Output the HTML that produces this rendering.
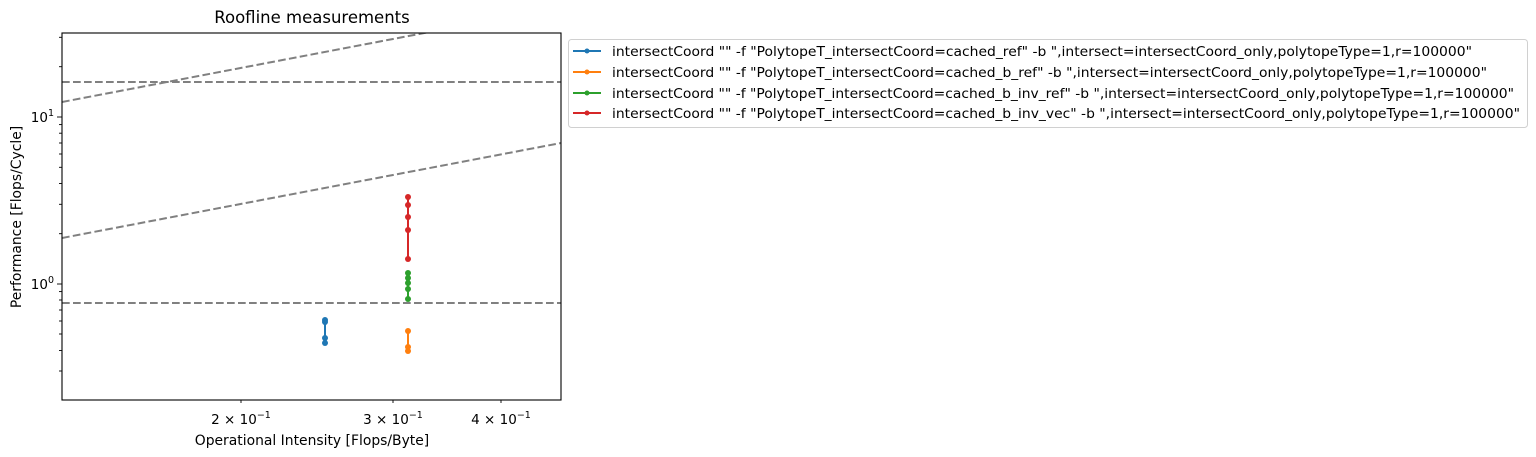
<!DOCTYPE html>
<html><head><meta charset="utf-8"><style>
html,body{margin:0;padding:0;background:#fff;}
svg{display:block;font-family:"DejaVu Sans","Liberation Sans",sans-serif;}
</style></head><body>
<svg width="1536" height="457" viewBox="0 0 1536 457" xmlns="http://www.w3.org/2000/svg">
<rect width="1536" height="457" fill="#fff"/>
<text x="312" y="23" font-size="16.5" text-anchor="middle" fill="#000">Roofline measurements</text>
<defs><clipPath id="c"><rect x="62" y="33" width="499" height="367"/></clipPath></defs>
<g clip-path="url(#c)" stroke="#808080" stroke-width="2" stroke-dasharray="7.7,3.3" fill="none">
<line x1="62" y1="82" x2="561" y2="82"/>
<line x1="62" y1="303" x2="561" y2="303"/>
<line x1="62" y1="102" x2="561" y2="7"/>
<line x1="62" y1="238" x2="561" y2="143"/>
</g>
<g stroke-width="2">
<line x1="325" y1="320" x2="325" y2="343" stroke="#1f77b4"/>
<line x1="408" y1="331" x2="408" y2="351" stroke="#ff7f0e"/>
<line x1="408" y1="272" x2="408" y2="299" stroke="#2ca02c"/>
<line x1="408" y1="197" x2="408" y2="259" stroke="#d62728"/>
</g>
<g fill="#1f77b4"><circle cx="325" cy="320" r="3"/><circle cx="325" cy="322" r="3"/><circle cx="325" cy="338" r="3"/><circle cx="325" cy="343" r="3"/></g>
<g fill="#ff7f0e"><circle cx="408" cy="331" r="3"/><circle cx="408" cy="347" r="3"/><circle cx="408" cy="351" r="3"/></g>
<g fill="#2ca02c"><circle cx="408" cy="273" r="3"/><circle cx="408" cy="278" r="3"/><circle cx="408" cy="283" r="3"/><circle cx="408" cy="289" r="3"/><circle cx="408" cy="299" r="3"/></g>
<g fill="#d62728"><circle cx="408" cy="197" r="3"/><circle cx="408" cy="205" r="3"/><circle cx="408" cy="217" r="3"/><circle cx="408" cy="230" r="3"/><circle cx="408" cy="259" r="3"/></g>
<rect x="62" y="33" width="499" height="367" fill="none" stroke="#000" stroke-width="1.1"/>
<g stroke="#000" stroke-width="0.9">
<line x1="62" y1="117" x2="57" y2="117"/><line x1="62" y1="284" x2="57" y2="284"/>
<line x1="62" y1="371" x2="59" y2="371"/><line x1="62" y1="350.5" x2="59" y2="350.5"/><line x1="62" y1="334" x2="59" y2="334"/><line x1="62" y1="321" x2="59" y2="321"/><line x1="62" y1="310" x2="59" y2="310"/><line x1="62" y1="300" x2="59" y2="300"/><line x1="62" y1="291.6" x2="59" y2="291.6"/>
<line x1="62" y1="233.7" x2="59" y2="233.7"/><line x1="62" y1="204.3" x2="59" y2="204.3"/><line x1="62" y1="183.5" x2="59" y2="183.5"/><line x1="62" y1="167.3" x2="59" y2="167.3"/><line x1="62" y1="154" x2="59" y2="154"/><line x1="62" y1="143" x2="59" y2="143"/><line x1="62" y1="133.2" x2="59" y2="133.2"/><line x1="62" y1="124.6" x2="59" y2="124.6"/>
<line x1="62" y1="66.7" x2="59" y2="66.7"/><line x1="62" y1="37.3" x2="59" y2="37.3"/>
<line x1="241" y1="400" x2="241" y2="403"/><line x1="393" y1="400" x2="393" y2="403"/><line x1="501" y1="400" x2="501" y2="403"/>
</g>
<g font-size="13.5" fill="#000">
<text x="54" y="122" text-anchor="end">10<tspan dy="-6" font-size="9.5">1</tspan></text>
<text x="54" y="289" text-anchor="end">10<tspan dy="-6" font-size="9.5">0</tspan></text>
<text x="241" y="424" text-anchor="middle">2 × 10<tspan dy="-6" font-size="9.5">−1</tspan></text>
<text x="393" y="424" text-anchor="middle">3 × 10<tspan dy="-6" font-size="9.5">−1</tspan></text>
<text x="501" y="424" text-anchor="middle">4 × 10<tspan dy="-6" font-size="9.5">−1</tspan></text>
<text x="312" y="445" text-anchor="middle" font-size="13.9">Operational Intensity [Flops/Byte]</text>
<text transform="translate(21,217) rotate(-90)" text-anchor="middle" font-size="13.9">Performance [Flops/Cycle]</text>
</g>
<rect x="568.5" y="39.5" width="959" height="88" rx="3" fill="#fff" stroke="#d0d0d0" stroke-width="1"/>
<g stroke-width="2">
<line x1="573" y1="51" x2="601" y2="51" stroke="#1f77b4"/><circle cx="587" cy="51" r="2.5" fill="#1f77b4"/>
<line x1="573" y1="72" x2="601" y2="72" stroke="#ff7f0e"/><circle cx="587" cy="72" r="2.5" fill="#ff7f0e"/>
<line x1="573" y1="93" x2="601" y2="93" stroke="#2ca02c"/><circle cx="587" cy="93" r="2.5" fill="#2ca02c"/>
<line x1="573" y1="113" x2="601" y2="113" stroke="#d62728"/><circle cx="587" cy="113" r="2.5" fill="#d62728"/>
</g>
<g font-size="13.5" fill="#000">
<text x="612" y="56" textLength="860" lengthAdjust="spacingAndGlyphs">intersectCoord "" -f "PolytopeT_intersectCoord=cached_ref" -b ",intersect=intersectCoord_only,polytopeType=1,r=100000"</text>
<text x="612" y="77" textLength="875" lengthAdjust="spacingAndGlyphs">intersectCoord "" -f "PolytopeT_intersectCoord=cached_b_ref" -b ",intersect=intersectCoord_only,polytopeType=1,r=100000"</text>
<text x="612" y="98" textLength="902" lengthAdjust="spacingAndGlyphs">intersectCoord "" -f "PolytopeT_intersectCoord=cached_b_inv_ref" -b ",intersect=intersectCoord_only,polytopeType=1,r=100000"</text>
<text x="612" y="118" textLength="908" lengthAdjust="spacingAndGlyphs">intersectCoord "" -f "PolytopeT_intersectCoord=cached_b_inv_vec" -b ",intersect=intersectCoord_only,polytopeType=1,r=100000"</text>
</g>
</svg>
</body></html>
